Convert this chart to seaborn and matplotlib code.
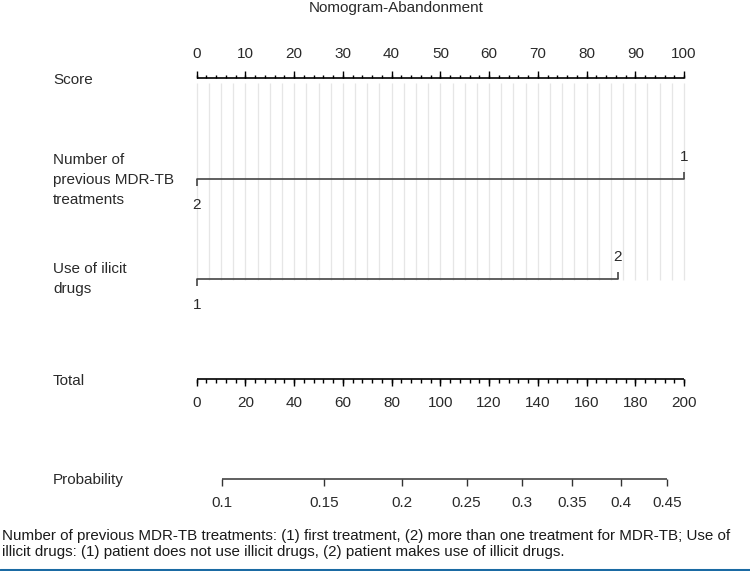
import numpy as np
import pandas as pd
import matplotlib
matplotlib.use("Agg")
import matplotlib.pyplot as plt
import seaborn as sns

# Points scale (top axis)
score_major = np.arange(0, 101, 10)
score_minor = np.arange(0, 101, 2)
grid_lines = np.arange(0, 100.1, 2.5)

# Predictor levels and the points they carry
mdr_levels = ["1", "2"]
mdr_points = [100, 0]
drug_levels = ["1", "2"]
drug_points = [0, 86.4]

# Total points axis
total_major = np.arange(0, 201, 20)
total_minor = np.arange(0, 201, 4)

# Probability axis: labels and where they sit on the total points scale
prob_labels = ["0.1", "0.15", "0.2", "0.25", "0.3", "0.35", "0.4", "0.45"]
prob_total = [10.3, 52.4, 84.3, 110.8, 133.6, 154.2, 174.0, 192.9]

sns.set_theme(style="white")
plt.rcParams['font.family'] = ['Liberation Sans', 'DejaVu Sans']

W, H = 750, 571
fig = plt.figure(figsize=(W / 100, H / 100), dpi=100)
ax = fig.add_axes([0, 0, 1, 1])
# x in score points, y in pixel rows (top = 0)
px_per_pt = (684.0 - 196.7) / 100
ax.set_xlim(-196.7 / px_per_pt, 100 + (W - 684.0) / px_per_pt)
ax.set_ylim(H, 0)
ax.axis("off")

ink = "#2a2a2a"
fs = 11
to_pt = lambda px: px / px_per_pt

# light vertical guide lines
ax.vlines(grid_lines, 83, 280, color="#e6e6e6", lw=0.9, zorder=0)

# Score axis (ticks up, labels above)
y_s = 78
ax.hlines(y_s, 0, 100, color="black", lw=1.2)
ax.vlines(score_minor, y_s - 3.5, y_s, color="black", lw=1)
ax.vlines(score_major, y_s - 7, y_s, color="black", lw=1)
for v in score_major:
    ax.text(v, 54, f"{v}", ha="center", va="center", fontsize=fs, color=ink)

# predictor lines
def predictor(y, levels, pts):
    df = pd.DataFrame({"x": [min(pts), max(pts)], "y": [y, y]})
    sns.lineplot(data=df, x="x", y="y", ax=ax, color="#444444", lw=1.2,
                 estimator=None, sort=False)
    for lab, p in zip(levels, pts):
        if p == max(pts):
            ax.vlines(p, y - 7, y, color="#444444", lw=1.2)
            ax.text(p, y - 22, lab, ha="center", va="center", fontsize=fs, color=ink)
        else:
            ax.vlines(p, y, y + 7, color="#444444", lw=1.2)
            ax.text(p, y + 26, lab, ha="center", va="center", fontsize=fs, color=ink)

predictor(179, mdr_levels, mdr_points)
predictor(279, drug_levels, drug_points)

# Total axis (ticks down, labels below)
y_t = 379
ax.hlines(y_t, 0, 100, color="black", lw=1.2)
ax.vlines(total_minor / 2, y_t, y_t + 3.5, color="black", lw=1)
ax.vlines(total_major / 2, y_t, y_t + 7, color="black", lw=1)
for v in total_major:
    ax.text(v / 2, 403, f"{v}", ha="center", va="center", fontsize=fs, color=ink)

# Probability axis
y_p = 479
pt = np.array(prob_total) / 2
ax.hlines(y_p, pt.min(), pt.max(), color="#444444", lw=1.2)
ax.vlines(pt, y_p, y_p + 7, color="#333333", lw=1)
for lab, v in zip(prob_labels, pt):
    ax.text(v, 503, lab, ha="center", va="center", fontsize=fs, color=ink)

# row labels
lx = -196.7 / px_per_pt + to_pt(53)
ax.text(lx, 80, "Score", ha="left", va="center", fontsize=fs, color=ink)
ax.text(lx, 180, "Number of\nprevious MDR-TB\ntreatments", ha="left", va="center",
        fontsize=fs, color=ink, linespacing=1.55)
ax.text(lx, 279, "Use of ilicit\ndrugs", ha="left", va="center", fontsize=fs,
        color=ink, linespacing=1.55)
ax.text(lx, 381, "Total", ha="left", va="center", fontsize=fs, color=ink)
ax.text(lx, 480, "Probability", ha="left", va="center", fontsize=fs, color=ink)

# title
fig.text(396 / W, 1 - 8 / H, "Nomogram-Abandonment", ha="center", va="center",
         fontsize=fs, color=ink)

# caption
fig.text(2 / W, 1 - 544 / H,
         "Number of previous MDR-TB treatments: (1) first treatment, (2) more than one treatment for MDR-TB; Use of\n"
         "illicit drugs: (1) patient does not use illicit drugs, (2) patient makes use of illicit drugs.",
         ha="left", va="center", fontsize=10.9, color="#1a1a1a", linespacing=1.2)

# blue rule along the bottom
fig.add_artist(plt.Line2D([0, 1], [1 - 569.5 / H] * 2, color="#1a6aa3", lw=2.2,
                          transform=fig.transFigure))

fig.savefig("out.png", dpi=100)
